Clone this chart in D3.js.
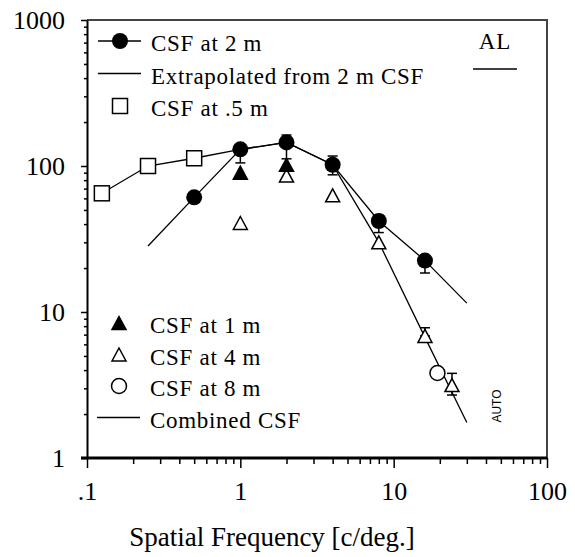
<!DOCTYPE html>
<html>
<head>
<meta charset="utf-8">
<script src="https://cdn.jsdelivr.net/npm/d3@7"></script>
<style>
  html, body { margin: 0; padding: 0; background: #fff; }
  svg { display: block; }
  text { font-family: "Liberation Serif", "Times New Roman", serif; fill: #000; }
</style>
</head>
<body>
<svg id="chart" width="575" height="557"></svg>
<script>
// Contrast sensitivity data (subject AL)
const xTickValues = [0.1, 1, 10, 100];
const xTickLabels = [".1", "1", "10", "100"];
const yTickValues = [1, 10, 100, 1000];
const yTickLabels = ["1", "10", "100", "1000"];

// CSF at 2 m (filled circles) with error-bar ends
const freq2m  = [0.5, 1, 2, 4, 8, 16];
const csf2m   = [61, 130, 145, 102, 42, 22.5];
const err2mLo = [61, 105, 112, 87, 35, 18.5];
const err2mHi = [61, 130, 163, 117, 46, 22.5];

// Extrapolated from 2 m CSF
const extrapLowFreq  = [0.25, 0.5];
const extrapLowCsf   = [28.3, 61];
const extrapHighFreq = [16, 30];
const extrapHighCsf  = [22.5, 11.5];

// CSF at .5 m (open squares)
const freq05 = [0.125, 0.25, 0.5];
const csf05  = [65, 100, 113];

// CSF at 1 m (filled triangles)
const freq1m = [1, 2];
const csf1m  = [90, 102];

// CSF at 4 m (open triangles)
const freq4m  = [1, 2, 4, 8, 16, 24];
const csf4m   = [40.7, 86, 63, 30, 6.86, 3.16];
const err4mLo = [40.7, 86, 63, 30, 6.86, 2.7];
const err4mHi = [40.7, 86, 63, 30, 7.8, 3.8];

// CSF at 8 m (open circle)
const freq8m = [19.3];
const csf8m  = [3.82];

// Combined CSF
const freqCombined = [0.125, 0.25, 0.5, 1, 2, 4, 8, 16, 30];
const csfCombined  = [65, 100, 113, 130, 145, 102, 30, 6.7, 1.75];

const legendTop = [
  { label: "CSF at 2 m", kind: "lineCircle" },
  { label: "Extrapolated from 2 m CSF", kind: "line" },
  { label: "CSF at .5 m", kind: "square" }
];
const legendBottom = [
  { label: "CSF at 1 m", kind: "triFilled" },
  { label: "CSF at 4 m", kind: "triOpen" },
  { label: "CSF at 8 m", kind: "circleOpen" },
  { label: "Combined CSF", kind: "line" }
];

const svg = d3.select("#chart");
const plotLeft = 87, plotRight = 547, plotTop = 20, plotBottom = 458;

const x = d3.scaleLog().domain([0.1, 100]).range([plotLeft, plotRight]);
const y = d3.scaleLog().domain([1, 1000]).range([plotBottom, plotTop]);

// frame (top and right)
svg.append("path")
  .attr("d", `M${plotLeft},${plotTop}H${plotRight}V${plotBottom}`)
  .attr("fill", "none").attr("stroke", "#444").attr("stroke-width", 2);

// minor ticks
const minorX = x.ticks().filter(d => !xTickValues.includes(d));
const minorY = y.ticks().filter(d => !yTickValues.includes(d));

const gx = svg.append("g").attr("transform", `translate(0,${plotBottom})`);
gx.call(d3.axisBottom(x).tickValues(minorX).tickSize(6).tickSizeOuter(0).tickFormat(""));
gx.call(g => g.select(".domain").remove());
const gx2 = svg.append("g").attr("transform", `translate(0,${plotBottom})`);
gx2.call(d3.axisBottom(x).tickValues(xTickValues).tickSize(10).tickSizeOuter(0)
  .tickFormat((d, i) => xTickLabels[i]).tickPadding(14));
gx2.select(".domain").attr("stroke-width", 3).attr("d", `M${plotLeft - 6},0H${plotRight}`);

const gy = svg.append("g").attr("transform", `translate(${plotLeft},0)`);
gy.call(d3.axisLeft(y).tickValues(minorY).tickSize(3).tickSizeOuter(0).tickFormat(""));
gy.call(g => g.select(".domain").remove());
const gy2 = svg.append("g").attr("transform", `translate(${plotLeft},0)`);
gy2.call(d3.axisLeft(y).tickValues(yTickValues).tickSize(6).tickSizeOuter(0)
  .tickFormat((d, i) => yTickLabels[i]).tickPadding(16));
gy2.select(".domain").attr("stroke-width", 2);

svg.selectAll(".tick line").attr("stroke", "#000").attr("stroke-width", 1.5);
svg.selectAll(".tick text").attr("font-family", "Liberation Serif").attr("font-size", 26).attr("fill", "#000");

// axis title
svg.append("text")
  .attr("x", (plotLeft + plotRight) / 2 - 45).attr("y", 546)
  .attr("text-anchor", "middle").attr("font-size", 27)
  .text("Spatial Frequency [c/deg.]");

const line = d3.line().x(d => x(d[0])).y(d => y(d[1]));
const plotLine = (fx, fy) => svg.append("path")
  .datum(fx.map((f, i) => [f, fy[i]]))
  .attr("d", line).attr("fill", "none").attr("stroke", "#000").attr("stroke-width", 1.3);

plotLine(freqCombined, csfCombined);
plotLine(extrapLowFreq, extrapLowCsf);
plotLine(extrapHighFreq, extrapHighCsf);
plotLine(freq2m, csf2m);

// error bars
function errorBars(fx, lo, hi) {
  const g = svg.append("g").attr("stroke", "#000").attr("stroke-width", 1.5);
  fx.forEach((f, i) => {
    if (lo[i] === hi[i]) return;
    const cx = x(f);
    g.append("line").attr("x1", cx).attr("x2", cx).attr("y1", y(lo[i])).attr("y2", y(hi[i]));
    g.append("line").attr("x1", cx - 5).attr("x2", cx + 5).attr("y1", y(lo[i])).attr("y2", y(lo[i]));
    g.append("line").attr("x1", cx - 5).attr("x2", cx + 5).attr("y1", y(hi[i])).attr("y2", y(hi[i]));
  });
}

// marker drawers
function marker(g, kind, cx, cy) {
  if (kind === "circleFilled" || kind === "lineCircle") {
    g.append("circle").attr("cx", cx).attr("cy", cy).attr("r", 8).attr("fill", "#000");
  } else if (kind === "circleOpen") {
    g.append("circle").attr("cx", cx).attr("cy", cy).attr("r", 7.5)
      .attr("fill", "#fff").attr("stroke", "#000").attr("stroke-width", 1.5);
  } else if (kind === "square") {
    g.append("rect").attr("x", cx - 7.5).attr("y", cy - 7.5).attr("width", 15).attr("height", 15)
      .attr("fill", "#fff").attr("stroke", "#000").attr("stroke-width", 1.5);
  } else if (kind === "triFilled" || kind === "triOpen") {
    const h = 13, w = 14;
    g.append("path")
      .attr("d", `M${cx},${cy - h / 2}L${cx + w / 2},${cy + h / 2}L${cx - w / 2},${cy + h / 2}Z`)
      .attr("fill", kind === "triFilled" ? "#000" : "#fff")
      .attr("stroke", "#000").attr("stroke-width", 1.5);
  }
}

function series(fx, fy, kind) {
  const g = svg.append("g");
  fx.forEach((f, i) => marker(g, kind, x(f), y(fy[i])));
}

series(freq05, csf05, "square");
errorBars(freq4m, err4mLo, err4mHi);
series(freq4m, csf4m, "triOpen");
series(freq1m, csf1m, "triFilled");
series(freq8m, csf8m, "circleOpen");
errorBars(freq2m, err2mLo, err2mHi);
series(freq2m, csf2m, "circleFilled");

// legends
function legend(items, x0, y0, dy, textX) {
  const g = svg.append("g");
  items.forEach((it, i) => {
    const cy = y0 + i * dy;
    if (it.kind === "line" || it.kind === "lineCircle") {
      g.append("line").attr("x1", x0 - 22).attr("x2", x0 + 21).attr("y1", cy).attr("y2", cy)
        .attr("stroke", "#000").attr("stroke-width", 1.5);
    }
    marker(g, it.kind, x0, cy);
    g.append("text").attr("x", textX).attr("y", cy + 10).attr("font-size", 23)
      .attr("letter-spacing", 0.7).text(it.label);
  });
}
legend(legendTop, 120, 41, 32.5, 151);
legend(legendBottom, 119, 323, 31.5, 150);

// subject tag
svg.append("text").attr("x", 495).attr("y", 49).attr("text-anchor", "middle")
  .attr("font-size", 23).attr("letter-spacing", 1).text("AL");
svg.append("line").attr("x1", 473).attr("x2", 517).attr("y1", 69).attr("y2", 69)
  .attr("stroke", "#000").attr("stroke-width", 1.5);

// small vertical tag
svg.append("text").attr("transform", "translate(501,406) rotate(-90)")
  .attr("text-anchor", "middle").style("font-family", "'Liberation Sans', sans-serif")
  .attr("font-size", 12).text("AUTO");
</script>
</body>
</html>
